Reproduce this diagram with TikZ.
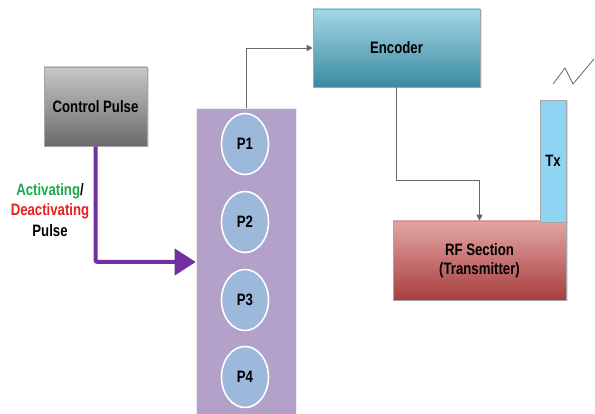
\documentclass[tikz,border=0pt]{standalone}
\usepackage{fontspec}
\setmainfont{Liberation Sans}[FakeStretch=0.8]
\usetikzlibrary{arrows.meta,shadows,shapes.geometric}
\definecolor{pulsepurple}{HTML}{7030A0}
\definecolor{columnlilac}{HTML}{B3A1C9}
\definecolor{circleblue}{HTML}{9CB8DA}
\definecolor{txblue}{HTML}{8FD4F2}
\definecolor{actgreen}{HTML}{1FA84F}
\definecolor{deactred}{HTML}{E8201E}
\definecolor{wiregray}{HTML}{666666}
\definecolor{enctop}{HTML}{A5D7E3}
\definecolor{encbottom}{HTML}{3A8AA3}
\definecolor{rftop}{HTML}{E3A5A5}
\definecolor{rfbottom}{HTML}{A83E3E}
\tikzset{
	block/.style={draw=black!35, line width=0.6pt, font=\bfseries\fontsize{16.5}{19}\selectfont, align=center, inner sep=0pt,
		drop shadow={opacity=0.25, shadow xshift=1.5pt, shadow yshift=-1.5pt}},
	pulsebox/.style={ellipse, draw=white, line width=1.6pt, fill=circleblue, minimum width=47pt, minimum height=61pt, inner sep=0pt, font=\bfseries\fontsize{16.5}{19}\selectfont},
	wire/.style={draw=wiregray, line width=0.9pt, -{Triangle[width=6pt,length=6pt]}}
}
\begin{document}
\begin{tikzpicture}[x=1pt,y=-1pt]
		% Hintergrund
		\useasboundingbox [fill=white] (0,0) rectangle (595,414);
		% Steuerpuls
		\node [block, top color=black!22, bottom color=black!58, minimum width=103pt, minimum height=79pt] (ctrl) at (95.5,106.5) {Control Pulse};
		% Saeule mit P1 bis P4
		\node [fill=columnlilac, draw=white!80!columnlilac, line width=0.6pt, minimum width=100pt, minimum height=308pt, inner sep=0pt] (col) at (246,262) {};
		\foreach \n/\y in {1/144,2/222,3/300,4/377} {
			\node [pulsebox] (p\n) at (245,\y) {P\n};
		}
		% Encoder
		\node [block, top color=enctop, bottom color=encbottom, minimum width=167pt, minimum height=78pt] (enc) at (396.5,48) {Encoder};
		% RF-Teil
		\node [block, top color=rftop, bottom color=rfbottom, minimum width=173pt, minimum height=79pt] (rf) at (479.5,260.5) {RF Section\\(Transmitter)};
		% Antenne
		\node [block, fill=txblue, minimum width=26pt, minimum height=122pt] (tx) at (553,161) {Tx};
		\draw [wiregray, line width=0.8pt] (553,84) -- (565,68) -- (573,84) -- (594,59);
		% Verbindungen
		\draw [pulsepurple, line width=4pt, rounded corners=2pt, -{Triangle[width=26pt,length=21pt]}] (ctrl.south) |- (col.west);
		\draw [wire] (col.north) |- (enc.west);
		\draw [wire] (enc.south) -- ++(0,93) coordinate (bend) -| (rf.north);
		% Beschriftung
		\node [font=\bfseries\fontsize{16.5}{20.5}\selectfont, align=center] (lbl) at (50,210) {\textcolor{actgreen}{Activating}/\\\textcolor{deactred}{Deactivating}\\Pulse};
\end{tikzpicture}
\end{document}
